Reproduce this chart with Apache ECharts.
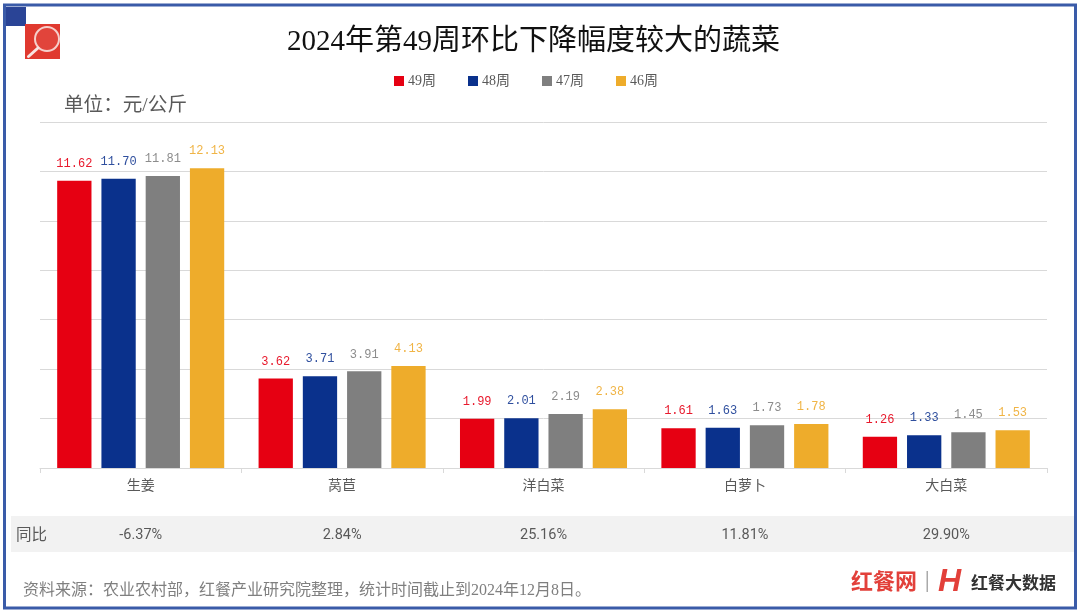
<!DOCTYPE html>
<html><head><meta charset="utf-8">
<style>html,body{margin:0;padding:0;background:#fff}#c{width:1080px;height:614px}</style>
<script src="https://cdn.jsdelivr.net/npm/echarts@6/dist/echarts.min.js"></script>
</head><body><div id="c"></div>
<script>
const categories = ['生姜','莴苣','洋白菜','白萝卜','大白菜'];
const yoy = ['-6.37%','2.84%','25.16%','11.81%','29.90%'];
const week49 = [11.62,3.62,1.99,1.61,1.26];
const week48 = [11.70,3.71,2.01,1.63,1.33];
const week47 = [11.81,3.91,2.19,1.73,1.45];
const week46 = [12.13,4.13,2.38,1.78,1.53];
const seriesNames = ['49周','48周','47周','46周'];
const seriesData = [week49,week48,week47,week46];
const colors = ['#E60012','#0A318C','#7F7F7F','#EEAC2B'];
const labelColors = ['#E8192C','#2F4F9E','#8C8C8C','#F0B445'];
const serif = '"Liberation Serif","Noto Sans CJK SC",serif';
const cjk = '"Noto Sans CJK SC",sans-serif';
const unitText = '单位\uFF1A元/公斤';
const sourceText = '资料来源\uFF1A农业农村部\uFF0C红餐产业研究院整理\uFF0C统计时间截止到2024年12月8日\u3002';
const chart = echarts.init(document.getElementById('c'),null,{renderer:'canvas'});
chart.setOption({
  animation:false,
  backgroundColor:'#fff',
  title:{text:'2024年第49周环比下降幅度较大的蔬菜',left:528.5,textAlign:'center',top:23,
    textStyle:{fontFamily:serif,fontSize:29,fontWeight:'normal',color:'#111'}},
  legend:{top:69,left:389,itemWidth:10,itemHeight:10,itemGap:32,icon:'rect',
    textStyle:{fontFamily:serif,fontSize:14,color:'#595959',padding:[0,0,0,-1]},data:seriesNames},
  grid:{left:40,right:33,top:122,height:346},
  xAxis:[{type:'category',data:categories,
      axisLine:{lineStyle:{color:'#D9D9D9',width:1}},
      axisTick:{show:true,length:5,alignWithLabel:false,lineStyle:{color:'#D9D9D9'}},
      axisLabel:{margin:10,fontFamily:cjk,fontSize:14,color:'#595959'}},
    {type:'category',position:'bottom',data:yoy,
      axisLine:{show:false},axisTick:{show:false},
      axisLabel:{margin:60,fontFamily:'Roboto,"Open Sans",sans-serif',fontSize:14.5,color:'#595959'}}],
  yAxis:{type:'value',min:0,max:14,interval:2,
    axisLine:{show:false},axisTick:{show:false},axisLabel:{show:false},
    splitLine:{lineStyle:{color:'#D9D9D9',width:1}}},
  series:seriesData.map((d,i)=>({
    name:seriesNames[i],type:'bar',data:d,barWidth:34.3,barGap:'29%',
    itemStyle:{color:colors[i]},
    label:{show:true,position:'top',distance:11,formatter:p=>p.value.toFixed(2),
      fontFamily:'"Liberation Mono",monospace',fontSize:12,color:labelColors[i]}
  })),
  graphic:[
    {type:'rect',z:-1,shape:{x:11,y:516,width:1063,height:36},style:{fill:'#F2F2F2'}},
    {type:'rect',z:-2,shape:{x:4.5,y:5,width:1071,height:603},style:{fill:'none',stroke:'#3A5BA8',lineWidth:3}},
    {type:'rect',shape:{x:6,y:7,width:20,height:19},style:{fill:'#2A4496'}},
    {type:'rect',shape:{x:25,y:24,width:35,height:35},style:{fill:'#E0392F'}},
    {type:'circle',shape:{cx:47,cy:39,r:12},style:{fill:'rgba(255,255,255,0.06)',stroke:'#F6CFCB',lineWidth:2}},
    {type:'line',shape:{x1:38,y1:48,x2:28.5,y2:56.5},style:{stroke:'#F8E4E2',lineWidth:3,lineCap:'round'}},
    {type:'text',style:{x:64,y:106,text:unitText,font:'19.6px '+serif,fill:'#595959',textVerticalAlign:'middle'}},
    {type:'text',style:{x:16,y:534,text:'同比',font:'15.5px '+cjk,fill:'#595959',textVerticalAlign:'middle'}},
    {type:'text',style:{x:23,y:591,text:sourceText,font:'16px '+serif,fill:'#7F7F7F',textVerticalAlign:'middle'}},
    {type:'text',style:{x:851,y:581,text:'红餐网',font:'bold 22px '+cjk,fill:'#E2403A',textVerticalAlign:'middle'}},
    {type:'rect',shape:{x:926.5,y:571,width:1.5,height:21},style:{fill:'#AAAAAA'}},
    {type:'text',style:{x:938,y:582,text:'H',font:'italic bold 32px "Liberation Sans",sans-serif',fill:'#E2403A',textVerticalAlign:'middle'}},
    {type:'text',style:{x:971,y:583,text:'红餐大数据',font:'bold 17px '+cjk,fill:'#333333',textVerticalAlign:'middle'}}
  ]
});
</script></body></html>
